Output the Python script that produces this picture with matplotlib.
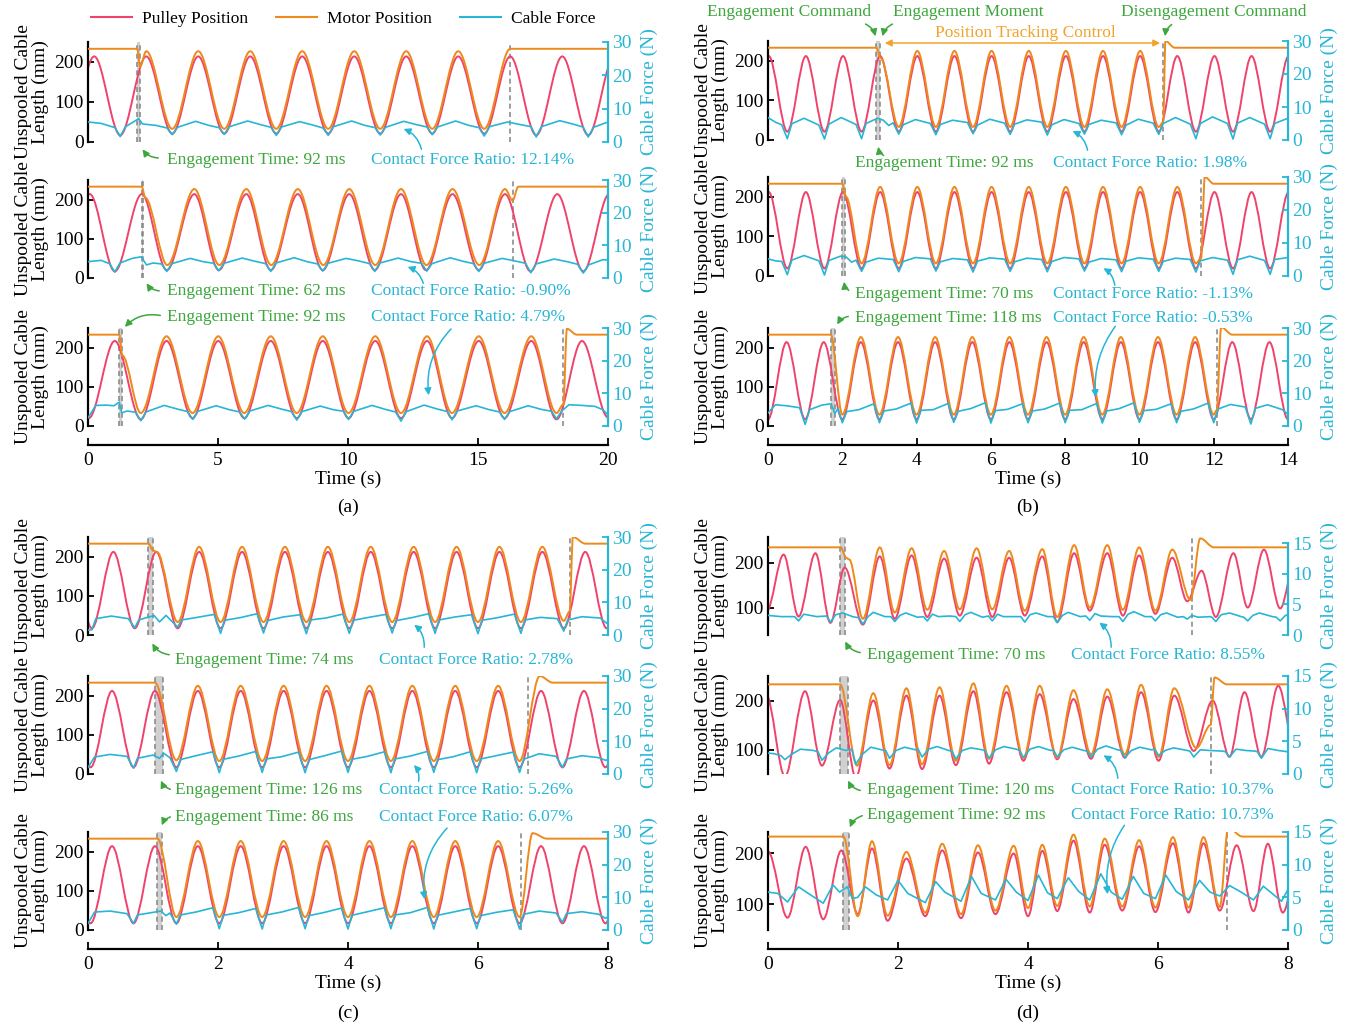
import matplotlib
matplotlib.use('Agg')
import matplotlib.pyplot as plt
from matplotlib.path import Path
from matplotlib.patches import PathPatch, FancyArrowPatch
from matplotlib.lines import Line2D

plt.rcParams['font.family'] = ['Liberation Serif', 'DejaVu Serif']

W, H = 1359, 1027

C_PUL = '#F0436B'
C_MOT = '#EE8A1C'
C_FRC = '#27B6D6'
C_GRN = '#3DA63D'
C_TRK = '#F2A32B'
C_SPAN = '#D0D0D0'
C_DASH = '#8C8C8C'

# ---------------- panel (a) ----------------
a1_pulley = [(-0.76, 18), (0.24, 214), (1.24, 17), (2.24, 214), (3.24, 21), (4.24, 214), (5.24, 21), (6.24, 214),
             (7.24, 21), (8.24, 214), (9.24, 21), (10.24, 214), (11.24, 21), (12.24, 214), (13.24, 21), (14.24, 214),
             (15.24, 21), (16.24, 214), (17.24, 17), (18.24, 214), (19.24, 17), (20.24, 214)]
a1_motor = [(0, 233), (1.90, 233), (2.00, 188), (2.24, 227), (3.24, 33), (4.24, 227), (5.24, 33), (6.24, 227),
            (7.24, 33), (8.24, 227), (9.24, 33), (10.24, 227), (11.24, 33), (12.24, 227), (13.24, 33), (14.24, 227),
            (15.24, 33), (16.24, 233), (20, 233)]
a1_force = [(0, 6.0), (0.5, 5.6), (1.04, 4.3), (1.24, 1.6), (1.44, 4.6), (1.7, 5.8), (1.95, 7.0), (2.1, 5.4), (2.6, 5.0),
            (3.04, 4.2), (3.24, 2.2), (3.44, 4.4), (4.14, 6.2), (4.64, 5.0),
            (5.04, 4.3), (5.24, 2.3), (5.44, 4.6), (6.14, 6.3), (6.64, 5.2),
            (7.04, 4.4), (7.24, 2.0), (7.44, 4.5), (8.14, 6.1), (8.64, 5.1),
            (9.04, 4.2), (9.24, 2.0), (9.44, 4.6), (10.14, 6.3), (10.64, 5.0),
            (11.04, 4.3), (11.24, 2.1), (11.44, 4.4), (12.14, 6.2), (12.64, 5.2),
            (13.04, 4.5), (13.24, 2.2), (13.44, 4.5), (14.14, 6.3), (14.64, 5.0),
            (15.04, 4.3), (15.24, 1.8), (15.44, 4.6), (16.14, 6.0), (16.64, 5.2),
            (17.04, 4.6), (17.24, 1.5), (17.44, 4.6), (18.14, 6.4), (18.64, 5.4),
            (19.04, 4.5), (19.24, 1.5), (19.44, 4.4), (20.0, 6.0)]

a2_pulley = [(-0.97, 18), (0.07, 214), (1.03, 17), (2.07, 214), (3.03, 20), (4.09, 214), (5.03, 20), (6.09, 214),
             (7.03, 20), (8.07, 214), (9.03, 20), (10.05, 214), (11.03, 20), (12.04, 214), (13.0, 20), (14.02, 214),
             (15.03, 20), (16.04, 214), (17.02, 17), (18.05, 214), (19.05, 17), (20.05, 214)]
a2_motor = [(0, 233), (2.07, 233), (2.2, 205), (3.05, 33), (4.09, 227), (5.05, 33), (6.09, 227), (7.05, 33),
            (8.07, 227), (9.05, 33), (10.05, 227), (11.05, 33), (12.04, 227), (13.02, 33), (14.02, 227), (15.05, 33),
            (16.04, 227), (16.33, 198), (16.55, 233), (20, 233)]
a2_force = [(0, 5.0), (0.5, 5.4), (0.83, 4.4), (1.03, 1.8), (1.23, 4.6), (1.7, 6.0), (2.05, 6.5), (2.25, 4.0), (2.5, 4.6),
            (2.83, 4.3), (3.03, 2.0), (3.23, 4.4), (3.93, 6.0), (4.43, 5.0),
            (4.83, 4.5), (5.03, 2.2), (5.23, 4.5), (5.93, 6.1), (6.43, 5.1),
            (6.83, 4.4), (7.03, 2.0), (7.23, 4.6), (7.93, 6.2), (8.43, 5.0),
            (8.83, 4.3), (9.03, 2.1), (9.23, 4.5), (9.93, 6.0), (10.43, 5.2),
            (10.83, 4.4), (11.03, 2.0), (11.23, 4.6), (11.93, 6.1), (12.43, 5.0),
            (12.83, 4.5), (13.03, 2.1), (13.23, 4.4), (13.93, 6.2), (14.43, 5.1),
            (14.83, 4.4), (15.03, 2.0), (15.23, 4.5), (15.93, 6.0), (16.43, 5.2),
            (16.83, 4.5), (17.03, 1.6), (17.23, 4.3), (17.93, 5.8), (18.43, 5.0),
            (18.83, 4.2), (19.05, 1.5), (19.25, 4.0), (19.8, 5.6), (20.0, 5.5)]

a3_pulley = [(-0.97, 217), (0.03, 20), (1.03, 217), (2.03, 17), (3.02, 217), (4.02, 20), (5.01, 217), (6.01, 20),
             (7.03, 217), (8.03, 20), (9.03, 217), (10.02, 20), (11.05, 217), (12.04, 20), (13.04, 217), (14.0, 20),
             (15.03, 217), (16.02, 20), (17.05, 217), (18.02, 17), (19.0, 217), (20.0, 22)]
a3_motor = [(0, 233), (1.20, 233), (1.32, 180), (2.03, 33), (3.02, 229), (4.02, 33), (5.01, 229), (6.01, 33),
            (7.03, 229), (8.03, 33), (9.03, 229), (10.02, 33), (11.05, 229), (12.04, 33), (13.04, 229), (14.0, 33),
            (15.03, 229), (16.02, 33), (17.05, 229), (18.02, 33), (18.28, 55), (18.42, 248), (18.8, 233), (20, 233)]
a3_force = [(0, 2.5), (0.3, 6.3), (0.7, 6.4), (1.0, 6.2), (1.2, 7.3), (1.3, 4.0), (1.5, 4.6),
            (1.83, 4.2), (2.03, 1.6), (2.23, 4.3), (2.93, 6.3), (3.43, 5.2),
            (3.83, 4.4), (4.03, 2.0), (4.23, 4.5), (4.93, 6.2), (5.43, 5.0),
            (5.83, 4.3), (6.03, 2.1), (6.23, 4.6), (6.93, 6.3), (7.43, 5.2),
            (7.83, 4.4), (8.03, 1.8), (8.23, 4.4), (8.93, 6.1), (9.43, 5.0),
            (9.83, 4.5), (10.02, 2.0), (10.22, 4.5), (10.93, 6.3), (11.43, 5.1),
            (11.83, 4.3), (12.04, 1.5), (12.24, 4.4), (12.93, 6.4), (13.43, 5.2),
            (13.83, 4.4), (14.0, 1.9), (14.2, 4.6), (14.93, 6.2), (15.43, 5.0),
            (15.83, 4.3), (16.02, 2.0), (16.22, 4.4), (16.93, 6.2), (17.43, 5.1),
            (17.83, 4.5), (18.02, 2.2), (18.22, 4.6), (18.5, 6.5), (19.0, 6.3), (19.5, 6.0), (19.8, 5.0), (20.0, 3.4)]

engage_a = [(1.90, 1.99), (2.06, 2.12), (1.20, 1.29)]
release_a = [16.22, 16.33, 18.28]
eng_ms_a = [92, 62, 92]
ratio_a = [12.14, -0.90, 4.79]

# ---------------- panel (b) ----------------
b1_pulley = [(-0.48, 21), (0.02, 212), (0.52, 21), (1.02, 212), (1.52, 21), (2.02, 212), (2.52, 21), (3.02, 212),
             (3.52, 21), (4.02, 212), (4.52, 21), (5.02, 212), (5.52, 21), (6.02, 212), (6.52, 21), (7.02, 212),
             (7.52, 21), (8.02, 212), (8.52, 21), (9.02, 212), (9.52, 21), (10.02, 212), (10.52, 21), (11.02, 212),
             (11.52, 21), (12.02, 212), (12.52, 21), (13.02, 212), (13.52, 21), (14.02, 212)]
b1_motor = [(0, 233), (2.92, 233), (3.03, 207), (3.52, 33), (4.02, 225), (4.52, 33), (5.02, 225), (5.52, 33),
            (6.02, 225), (6.52, 33), (7.02, 225), (7.52, 33), (8.02, 225), (8.52, 33), (9.02, 225), (9.52, 33),
            (10.02, 225), (10.52, 33), (10.64, 45), (10.70, 250), (10.95, 233), (14, 233)]
b1_force = [(0, 6.8), (0.2, 5.4),
            (0.37, 4.6), (0.52, 0.4), (0.64, 4.9), (0.97, 6.6),
            (1.37, 4.5), (1.52, 0.3), (1.64, 4.8), (1.97, 6.8),
            (2.37, 4.7), (2.52, 0.4), (2.64, 5.0), (2.95, 6.6), (3.1, 6.0), (3.25, 4.4),
            (3.37, 5.2), (3.52, 1.8), (3.64, 4.6), (3.97, 6.2),
            (4.37, 5.0), (4.52, 1.6), (4.64, 4.7), (4.97, 6.0),
            (5.37, 5.3), (5.52, 1.9), (5.64, 4.5), (5.97, 6.3),
            (6.37, 5.1), (6.52, 1.7), (6.64, 4.8), (6.97, 6.1),
            (7.37, 5.4), (7.52, 1.5), (7.64, 4.6), (7.97, 6.2),
            (8.37, 5.0), (8.52, 1.8), (8.64, 4.7), (8.97, 6.0),
            (9.37, 5.2), (9.52, 1.6), (9.64, 4.5), (9.97, 6.3),
            (10.37, 5.1), (10.52, 1.7), (10.64, 5.0), (10.97, 6.8),
            (11.37, 4.8), (11.52, 0.4), (11.64, 5.0), (11.97, 7.0),
            (12.37, 5.0), (12.52, 0.3), (12.64, 5.1), (12.97, 6.8),
            (13.37, 4.8), (13.52, 0.4), (13.64, 5.0), (14.0, 6.6)]

b2_pulley = [(-0.48, 19), (0.02, 212), (0.52, 19), (1.02, 212), (1.52, 19), (2.02, 212), (2.52, 19), (3.02, 212),
             (3.52, 19), (4.02, 212), (4.52, 19), (5.02, 212), (5.52, 19), (6.02, 212), (6.52, 19), (7.02, 212),
             (7.52, 19), (8.02, 212), (8.52, 19), (9.02, 212), (9.52, 19), (10.02, 212), (10.52, 19), (11.02, 212),
             (11.52, 19), (12.02, 212), (12.52, 19), (13.02, 212), (13.52, 19), (14.02, 212)]
b2_motor = [(0, 233), (2.00, 233), (2.10, 200), (2.52, 32), (3.02, 225), (3.52, 32), (4.02, 225), (4.52, 32),
            (5.02, 225), (5.52, 32), (6.02, 225), (6.52, 32), (7.02, 225), (7.52, 32), (8.02, 225), (8.52, 32),
            (9.02, 225), (9.52, 32), (10.02, 225), (10.52, 32), (11.02, 225), (11.52, 32), (11.66, 45), (11.76, 250),
            (12.0, 233), (14, 233)]
b2_force = [(0, 5.2), (0.2, 4.6),
            (0.37, 4.4), (0.52, 0.4), (0.64, 4.8), (0.97, 6.2),
            (1.37, 4.6), (1.52, 0.3), (1.64, 4.7), (1.95, 6.0), (2.1, 5.8), (2.25, 4.2),
            (2.37, 4.8), (2.52, 1.4), (2.64, 4.2), (2.97, 5.4),
            (3.37, 5.0), (3.52, 1.3), (3.64, 4.4), (3.97, 5.6),
            (4.37, 5.2), (4.52, 1.5), (4.64, 4.3), (4.97, 5.3),
            (5.37, 4.9), (5.52, 1.2), (5.64, 4.5), (5.97, 5.5),
            (6.37, 5.1), (6.52, 1.4), (6.64, 4.3), (6.97, 5.4),
            (7.37, 5.0), (7.52, 1.3), (7.64, 4.4), (7.97, 5.6),
            (8.37, 5.2), (8.52, 1.5), (8.64, 4.2), (8.97, 5.3),
            (9.37, 4.9), (9.52, 1.3), (9.64, 4.5), (9.97, 5.5),
            (10.37, 5.1), (10.52, 1.4), (10.64, 4.4), (10.97, 5.4),
            (11.37, 5.0), (11.52, 1.2), (11.64, 4.6), (11.97, 5.6),
            (12.37, 4.8), (12.52, 0.5), (12.64, 4.9), (12.97, 6.0),
            (13.37, 4.7), (13.52, 0.5), (13.64, 5.0), (14.0, 5.6)]

b3_pulley = [(0.0, 17), (0.5, 214), (1.0, 17), (1.5, 214), (2.0, 17), (2.5, 214), (3.0, 17), (3.5, 214),
             (4.0, 17), (4.5, 214), (5.0, 17), (5.5, 214), (6.0, 17), (6.5, 214), (7.0, 17), (7.5, 214),
             (8.0, 17), (8.5, 214), (9.0, 17), (9.5, 214), (10.0, 17), (10.5, 214), (11.0, 17), (11.5, 214),
             (12.0, 17), (12.5, 214), (13.0, 17), (13.5, 214), (14.0, 17)]
b3_motor = [(0, 233), (1.69, 233), (2.0, 29), (2.5, 227), (3.0, 29), (3.5, 227), (4.0, 29), (4.5, 227),
            (5.0, 29), (5.5, 227), (6.0, 29), (6.5, 227), (7.0, 29), (7.5, 227), (8.0, 29), (8.5, 227),
            (9.0, 29), (9.5, 227), (10.0, 29), (10.5, 227), (11.0, 29), (11.5, 227), (12.0, 29), (12.08, 40),
            (12.2, 252), (12.5, 233), (14, 233)]
b3_force = [(0, 4.0), (0.2, 6.5), (0.5, 6.2),
            (0.85, 5.6), (1.0, 0.5), (1.12, 5.0), (1.45, 6.4),
            (1.7, 6.8), (1.8, 3.8), (1.88, 5.4), (2.0, 1.0), (2.12, 4.4), (2.45, 5.0),
            (2.85, 6.8), (3.0, 1.0), (3.12, 4.6), (3.45, 5.2),
            (3.85, 7.0), (4.0, 0.9), (4.12, 4.8), (4.45, 5.0),
            (4.85, 6.9), (5.0, 1.1), (5.12, 4.5), (5.45, 5.3),
            (5.85, 7.1), (6.0, 0.9), (6.12, 4.7), (6.45, 5.1),
            (6.85, 6.8), (7.0, 1.0), (7.12, 4.6), (7.45, 5.2),
            (7.85, 7.0), (8.0, 1.0), (8.12, 4.8), (8.45, 5.0),
            (8.85, 6.9), (9.0, 0.9), (9.12, 4.6), (9.45, 5.3),
            (9.85, 7.1), (10.0, 1.1), (10.12, 4.7), (10.45, 5.1),
            (10.85, 6.8), (11.0, 1.0), (11.12, 4.5), (11.45, 5.2),
            (11.85, 7.0), (12.0, 1.0), (12.12, 5.2), (12.45, 6.6),
            (12.85, 5.8), (13.0, 0.6), (13.12, 5.4), (13.45, 6.5),
            (13.85, 5.0), (14.0, 3.6)]

engage_b = [(2.92, 3.01), (1.99, 2.06), (1.69, 1.81)]
release_b = [10.64, 11.66, 12.08]
eng_ms_b = [92, 70, 118]
ratio_b = [1.98, -1.13, -0.53]

# ---------------- panel (c) ----------------
c1_pulley = [(-0.27, 212), (0.06, 17), (0.39, 212), (0.72, 17), (1.05, 212), (1.38, 17), (1.71, 212), (2.04, 17),
             (2.37, 212), (2.70, 17), (3.03, 212), (3.36, 17), (3.69, 212), (4.02, 17), (4.35, 212), (4.68, 17),
             (5.01, 212), (5.34, 17), (5.67, 212), (6.00, 17), (6.33, 212), (6.66, 17), (6.99, 212), (7.32, 17),
             (7.65, 212), (7.98, 17), (8.31, 212)]
c1_motor = [(0, 233), (0.93, 233), (1.00, 216), (1.06, 212), (1.38, 33), (1.71, 225), (2.04, 33), (2.37, 225),
            (2.70, 33), (3.03, 225), (3.36, 33), (3.69, 225), (4.02, 33), (4.35, 225), (4.68, 33), (5.01, 225),
            (5.34, 33), (5.67, 225), (6.00, 33), (6.33, 225), (6.66, 33), (6.99, 225), (7.32, 36), (7.41, 60),
            (7.46, 250), (7.65, 233), (8, 233)]
c1_force = [(0, 1.5), (0.06, 1.6), (0.12, 5.0), (0.36, 5.8),
            (0.62, 5.0), (0.72, 2.2), (0.78, 4.6), (0.95, 5.6), (1.02, 5.9),
            (1.1, 4.0), (1.2, 6.0), (1.28, 4.4), (1.38, 2.4), (1.44, 4.6), (1.68, 5.4),
            (1.94, 6.3), (2.04, 0.5), (2.10, 4.5), (2.34, 5.3),
            (2.60, 6.5), (2.70, 0.6), (2.76, 4.4), (3.00, 5.5),
            (3.26, 6.2), (3.36, 0.4), (3.42, 4.6), (3.66, 5.2),
            (3.92, 6.4), (4.02, 0.5), (4.08, 4.5), (4.32, 5.4),
            (4.58, 6.3), (4.68, 0.6), (4.74, 4.4), (4.98, 5.3),
            (5.24, 6.5), (5.34, 0.5), (5.40, 4.6), (5.64, 5.5),
            (5.90, 6.2), (6.00, 0.4), (6.06, 4.5), (6.30, 5.3),
            (6.56, 6.4), (6.66, 0.5), (6.72, 4.6), (6.96, 5.4),
            (7.22, 5.0), (7.32, 1.2), (7.38, 4.6), (7.60, 5.6),
            (7.88, 5.2), (7.98, 3.6), (8.0, 4.0)]

c2_pulley = [(-0.29, 212), (0.04, 17), (0.37, 212), (0.70, 17), (1.03, 212), (1.36, 17), (1.69, 212), (2.02, 17),
             (2.35, 212), (2.68, 17), (3.01, 212), (3.34, 17), (3.67, 212), (4.00, 17), (4.33, 212), (4.66, 17),
             (4.99, 212), (5.32, 17), (5.65, 212), (5.98, 17), (6.31, 212), (6.64, 17), (6.97, 212), (7.30, 17),
             (7.63, 212), (7.96, 17), (8.29, 212)]
c2_motor = [(0, 233), (1.03, 233), (1.36, 35), (1.69, 225), (2.02, 33), (2.35, 225), (2.68, 33), (3.01, 225),
            (3.34, 33), (3.67, 225), (4.00, 33), (4.33, 225), (4.66, 33), (4.99, 225), (5.32, 33), (5.65, 225),
            (5.98, 33), (6.31, 225), (6.64, 33), (6.95, 250), (7.15, 233), (8, 233)]
c2_force = [(0, 2.0), (0.10, 5.2), (0.34, 6.0),
            (0.60, 5.4), (0.70, 1.8), (0.76, 4.8), (1.00, 5.8),
            (1.10, 4.8), (1.16, 6.4), (1.26, 5.0), (1.36, 0.8), (1.42, 4.4), (1.66, 5.6),
            (1.92, 6.8), (2.02, 0.4), (2.08, 4.5), (2.32, 5.5),
            (2.58, 6.9), (2.68, 0.5), (2.74, 4.6), (2.98, 5.3),
            (3.24, 6.7), (3.34, 0.4), (3.40, 4.4), (3.64, 5.6),
            (3.90, 7.0), (4.00, 0.5), (4.06, 4.5), (4.30, 5.4),
            (4.56, 6.8), (4.66, 0.4), (4.72, 4.6), (4.96, 5.5),
            (5.22, 6.9), (5.32, 0.5), (5.38, 4.4), (5.62, 5.3),
            (5.88, 6.8), (5.98, 0.4), (6.04, 4.6), (6.28, 5.6),
            (6.54, 6.7), (6.64, 0.5), (6.70, 4.5), (6.94, 6.2),
            (7.20, 5.4), (7.30, 2.0), (7.36, 4.6), (7.60, 5.6),
            (7.86, 5.0), (7.96, 4.2), (8.0, 4.4)]

c3_pulley = [(-0.29, 214), (0.04, 17), (0.37, 214), (0.70, 17), (1.03, 214), (1.36, 17), (1.69, 214), (2.02, 17),
             (2.35, 214), (2.68, 17), (3.01, 214), (3.34, 17), (3.67, 214), (4.00, 17), (4.33, 214), (4.66, 17),
             (4.99, 214), (5.32, 17), (5.65, 214), (5.98, 17), (6.31, 214), (6.64, 17), (6.97, 214), (7.30, 17),
             (7.63, 214), (7.96, 17), (8.29, 214)]
c3_motor = [(0, 233), (1.07, 233), (1.36, 33), (1.69, 227), (2.02, 33), (2.35, 227), (2.68, 33), (3.01, 227),
            (3.34, 33), (3.67, 227), (4.00, 33), (4.33, 227), (4.66, 33), (4.99, 227), (5.32, 33), (5.65, 227),
            (5.98, 33), (6.31, 227), (6.64, 33), (6.84, 247), (7.06, 233), (8, 233)]
c3_force = [(0, 2.0), (0.10, 5.5), (0.34, 5.8),
            (0.60, 5.0), (0.70, 2.0), (0.76, 4.6), (1.00, 5.4),
            (1.12, 5.8), (1.20, 4.4), (1.26, 5.2), (1.36, 1.8), (1.42, 4.6), (1.66, 5.5),
            (1.92, 6.8), (2.02, 0.4), (2.08, 4.5), (2.32, 5.3),
            (2.58, 6.6), (2.68, 0.3), (2.74, 4.6), (2.98, 5.5),
            (3.24, 6.9), (3.34, 0.4), (3.40, 4.4), (3.64, 5.4),
            (3.90, 6.7), (4.00, 0.3), (4.06, 4.5), (4.30, 5.6),
            (4.56, 6.8), (4.66, 0.4), (4.72, 4.6), (4.96, 5.3),
            (5.22, 6.9), (5.32, 0.3), (5.38, 4.5), (5.62, 5.5),
            (5.88, 6.6), (5.98, 0.4), (6.04, 4.4), (6.28, 5.4),
            (6.54, 6.2), (6.64, 0.3), (6.70, 4.8), (6.94, 5.8),
            (7.20, 5.2), (7.30, 2.4), (7.36, 5.0), (7.60, 5.6),
            (7.86, 4.8), (7.96, 3.6), (8.0, 4.0)]

engage_c = [(0.92, 0.995), (1.03, 1.156), (1.06, 1.146)]
release_c = [7.41, 6.77, 6.66]
eng_ms_c = [74, 126, 86]
ratio_c = [2.78, 5.26, 6.07]

# ---------------- panel (d) ----------------
d1_pulley = [(-0.02, 92), (0.24, 218), (0.47, 80), (0.73, 221), (0.96, 66), (1.18, 189), (1.46, 62), (1.72, 214),
             (1.95, 75), (2.21, 216), (2.45, 79), (2.71, 209), (2.95, 82), (3.21, 211), (3.45, 79), (3.71, 211),
             (3.95, 82), (4.22, 214), (4.45, 68), (4.71, 221), (4.95, 93), (5.22, 221), (5.46, 82), (5.71, 216),
             (5.96, 86), (6.22, 211), (6.45, 114), (6.67, 182), (6.89, 79), (7.16, 221), (7.38, 100), (7.63, 229),
             (7.88, 98), (8.13, 220)]
d1_motor = [(0, 234), (1.12, 234), (1.20, 211), (1.25, 207), (1.46, 75), (1.72, 234), (1.95, 89), (2.21, 232),
            (2.45, 95), (2.71, 226), (2.95, 96), (3.21, 232), (3.45, 96), (3.71, 226), (3.95, 93), (4.22, 230),
            (4.45, 79), (4.71, 239), (4.95, 100), (5.22, 239), (5.46, 95), (5.71, 234), (5.96, 93), (6.22, 229),
            (6.50, 117), (6.65, 254), (6.86, 234), (8, 234)]
d1_force = [(0, 3.2), (0.2, 3.0),
            (0.41, 3.0), (0.47, 2.3), (0.55, 3.4), (0.75, 3.0),
            (0.90, 3.1), (0.96, 2.1), (1.04, 3.3), (1.15, 3.6), (1.30, 3.0),
            (1.40, 2.8), (1.46, 1.8), (1.54, 3.0), (1.62, 3.7), (1.80, 3.0),
            (1.89, 3.0), (1.95, 2.2), (2.03, 3.2), (2.12, 3.6), (2.30, 2.9),
            (2.39, 3.0), (2.45, 2.3), (2.53, 3.4), (2.62, 3.0), (2.80, 3.1),
            (2.89, 3.0), (2.95, 2.2), (3.03, 3.3), (3.12, 3.7), (3.30, 2.9),
            (3.39, 3.1), (3.45, 2.3), (3.53, 3.4), (3.62, 3.0), (3.80, 3.0),
            (3.89, 3.0), (3.95, 2.1), (4.03, 3.3), (4.12, 3.6), (4.30, 3.0),
            (4.39, 3.0), (4.45, 2.0), (4.53, 3.2), (4.62, 3.7), (4.80, 3.0),
            (4.89, 3.1), (4.95, 2.4), (5.03, 3.5), (5.12, 3.1), (5.30, 3.0),
            (5.40, 3.0), (5.46, 2.2), (5.54, 3.4), (5.63, 3.8), (5.80, 3.0),
            (5.90, 3.0), (5.96, 2.3), (6.04, 3.3), (6.13, 3.6), (6.30, 2.9),
            (6.39, 3.0), (6.45, 2.6), (6.52, 3.2), (6.62, 2.9), (6.80, 3.0),
            (6.83, 2.9), (6.89, 2.2), (6.97, 3.3), (7.10, 3.6), (7.28, 3.0),
            (7.32, 2.9), (7.38, 2.3), (7.46, 3.2), (7.56, 3.6), (7.76, 3.0),
            (7.82, 2.9), (7.88, 2.3), (7.96, 3.2), (8.0, 3.3)]

d2_pulley = [(-0.03, 213), (0.26, 45), (0.57, 219), (0.83, 67), (1.11, 201), (1.35, 43), (1.62, 200), (1.87, 61),
             (2.13, 210), (2.37, 60), (2.64, 210), (2.89, 68), (3.16, 219), (3.40, 71), (3.67, 217), (3.93, 77),
             (4.18, 213), (4.45, 80), (4.70, 203), (4.97, 81), (5.22, 208), (5.49, 83), (5.74, 217), (6.01, 77),
             (6.25, 210), (6.55, 97), (6.84, 200), (7.10, 85), (7.33, 217), (7.59, 85), (7.85, 230), (8.12, 90)]
d2_motor = [(0, 233), (1.11, 233), (1.37, 67), (1.62, 215), (1.87, 68), (2.13, 225), (2.37, 70), (2.64, 227),
            (2.89, 77), (3.16, 235), (3.40, 81), (3.67, 230), (3.93, 83), (4.18, 230), (4.45, 83), (4.70, 221),
            (4.97, 90), (5.22, 223), (5.49, 90), (5.74, 232), (6.01, 85), (6.25, 225), (6.59, 103), (6.81, 150),
            (6.87, 247), (7.06, 233), (8, 233)]
d2_force = [(0, 3.2), (0.10, 3.1),
            (0.20, 2.8), (0.26, 2.2), (0.36, 3.0), (0.50, 3.8), (0.70, 3.6),
            (0.77, 3.4), (0.83, 2.1), (0.93, 3.2), (1.05, 4.0), (1.20, 3.6),
            (1.29, 3.8), (1.35, 1.5), (1.45, 3.0), (1.58, 4.1), (1.75, 3.7),
            (1.81, 3.6), (1.87, 2.4), (1.97, 3.6), (2.10, 4.1), (2.27, 3.7),
            (2.31, 3.8), (2.37, 2.6), (2.47, 3.8), (2.60, 4.2), (2.78, 3.6),
            (2.83, 3.5), (2.89, 2.3), (2.99, 3.6), (3.12, 4.0), (3.30, 3.7),
            (3.34, 3.6), (3.40, 2.4), (3.50, 3.7), (3.63, 4.2), (3.82, 3.8),
            (3.87, 3.6), (3.93, 2.5), (4.03, 3.8), (4.16, 4.2), (4.35, 3.6),
            (4.39, 3.7), (4.45, 2.6), (4.55, 3.7), (4.68, 4.1), (4.86, 3.6),
            (4.91, 3.5), (4.97, 2.6), (5.07, 3.8), (5.20, 4.3), (5.38, 3.7),
            (5.43, 3.6), (5.49, 2.5), (5.59, 3.6), (5.72, 4.1), (5.90, 3.7),
            (5.95, 3.8), (6.01, 2.8), (6.11, 3.6), (6.24, 4.0), (6.45, 3.6),
            (6.49, 3.5), (6.55, 2.6), (6.65, 3.7), (6.80, 3.6), (7.00, 3.5),
            (7.04, 3.4), (7.10, 2.6), (7.20, 3.8), (7.35, 3.6), (7.50, 3.5),
            (7.53, 3.4), (7.59, 2.4), (7.69, 3.9), (7.85, 3.6), (8.0, 3.4)]

d3_pulley = [(0.0, 204), (0.30, 74), (0.58, 213), (0.85, 71), (1.13, 206), (1.38, 81), (1.60, 210), (1.84, 68),
             (2.13, 190), (2.42, 77), (2.68, 206), (2.97, 73), (3.23, 202), (3.50, 81), (3.78, 200), (4.00, 77),
             (4.22, 205), (4.45, 87), (4.70, 225), (4.95, 84), (5.18, 217), (5.45, 88), (5.71, 214), (5.96, 85),
             (6.23, 220), (6.47, 84), (6.70, 220), (6.95, 88), (7.21, 216), (7.47, 87), (7.69, 219), (7.92, 84),
             (8.20, 215)]
d3_motor = [(0, 233), (1.16, 233), (1.38, 77), (1.60, 224), (1.84, 78), (2.13, 203), (2.42, 84), (2.68, 219),
            (2.97, 81), (3.23, 216), (3.50, 88), (3.78, 215), (4.00, 93), (4.22, 217), (4.45, 97), (4.70, 237),
            (4.95, 96), (5.18, 229), (5.45, 96), (5.71, 226), (5.96, 94), (6.23, 232), (6.47, 94), (6.70, 232),
            (6.95, 95), (7.08, 250), (7.30, 233), (8, 233)]
d3_force = [(0, 5.8), (0.15, 5.6), (0.30, 4.3), (0.47, 6.6), (0.62, 5.6),
            (0.85, 4.1), (1.00, 6.9), (1.10, 5.8), (1.22, 6.6), (1.30, 4.8),
            (1.38, 5.0), (1.50, 6.6), (1.66, 5.4),
            (1.84, 4.6), (2.00, 7.6), (2.15, 5.6),
            (2.42, 4.2), (2.58, 7.4), (2.72, 5.8),
            (2.97, 4.4), (3.13, 8.2), (3.28, 5.6),
            (3.50, 4.6), (3.66, 7.8), (3.82, 5.8),
            (4.00, 4.5), (4.16, 8.4), (4.30, 5.7),
            (4.45, 4.8), (4.62, 8.0), (4.78, 5.9),
            (4.95, 4.6), (5.12, 8.6), (5.28, 5.8),
            (5.45, 4.7), (5.62, 8.2), (5.78, 5.6),
            (5.96, 4.8), (6.12, 8.4), (6.28, 5.9),
            (6.47, 4.6), (6.64, 7.6), (6.80, 5.8),
            (6.95, 5.2), (7.10, 6.8), (7.28, 5.8),
            (7.47, 4.6), (7.62, 6.7), (7.78, 5.4),
            (7.90, 4.4), (8.0, 6.2)]

engage_d = [(1.11, 1.18), (1.11, 1.23), (1.16, 1.25)]
release_d = [6.52, 6.82, 7.06]
eng_ms_d = [70, 120, 92]
ratio_d = [8.55, 10.37, 10.73]

# ---------------- layout helpers ----------------
fig = plt.figure(figsize=(W / 100, H / 100), dpi=100)


def fxy(px, py):
    return px / W, 1 - py / H


def add_curve(ax, pts, color, lw, z):
    # smooth curve through the read extrema (horizontal tangents at each point)
    verts = [pts[0]]
    codes = [Path.MOVETO]
    for (t0, y0), (t1, y1) in zip(pts[:-1], pts[1:]):
        h = (t1 - t0) / 3.0
        verts += [(t0 + h, y0), (t1 - h, y1), (t1, y1)]
        codes += [Path.CURVE4] * 3
    ax.add_patch(PathPatch(Path(verts, codes), fc='none', ec=color, lw=lw, zorder=z,
                           capstyle='round', joinstyle='round'))


def arrow(p0, p1, color, rad, style='-|>'):
    fig.add_artist(FancyArrowPatch(fxy(*p0), fxy(*p1), transform=fig.transFigure, arrowstyle=style,
                                   connectionstyle='arc3,rad=%s' % rad, mutation_scale=10, color=color, lw=1.1))


def draw_row(box, xlim, llim, rlim, xticks, lticks, rticks, pul, mot, frc, span, release, bottom, rbound=None):
    x0, x1, y0, y1 = box
    ax = fig.add_axes([x0 / W, 1 - y1 / H, (x1 - x0) / W, (y1 - y0) / H])
    ax.patch.set_alpha(0)
    axr = ax.twinx()
    ax.set_xlim(xlim)
    ax.set_ylim(llim)
    axr.set_ylim(rlim)

    ax.axvspan(span[0], span[1], color=C_SPAN, lw=0, zorder=0.5)
    for xv in (span[0], span[1], release):
        ax.axvline(xv, color=C_DASH, ls=(0, (3, 2)), lw=1.2, zorder=1)

    add_curve(ax, pul, C_PUL, 1.4, 2)
    add_curve(ax, mot, C_MOT, 1.4, 3)
    axr.plot([p[0] for p in frc], [p[1] for p in frc], color=C_FRC, lw=1.2, zorder=2)

    for s in ('top', 'right'):
        ax.spines[s].set_visible(False)
    for s in ('top', 'left', 'bottom'):
        axr.spines[s].set_visible(False)
    ax.spines['left'].set_linewidth(1.6)
    axr.spines['right'].set_linewidth(1.6)
    axr.spines['right'].set_color(C_FRC)
    if rbound is not None:
        axr.spines['right'].set_bounds(*rbound)

    ax.set_yticks(lticks)
    axr.set_yticks(rticks)
    ax.tick_params(axis='y', direction='in', length=4, width=1.3, labelsize=14, pad=3)
    axr.tick_params(axis='y', direction='in', length=4, width=1.3, labelsize=14, pad=3,
                    colors=C_FRC)
    ax.set_ylabel('Unspooled Cable\nLength (mm)', fontsize=14, linespacing=1.0)
    ax.yaxis.set_label_coords(-0.075, 0.5)
    axr.set_ylabel('Cable Force (N)', fontsize=14, color=C_FRC)
    axr.yaxis.set_label_coords(1.063, 0.5)

    ax.set_xticks(xticks)
    if bottom:
        ax.spines['bottom'].set_position(('outward', 14))
        ax.spines['bottom'].set_linewidth(1.6)
        ax.tick_params(axis='x', direction='in', length=5, width=1.3, labelsize=14, pad=5)
        ax.set_xlabel('Time (s)', fontsize=14, labelpad=1)
    else:
        ax.spines['bottom'].set_visible(False)
        ax.tick_params(axis='x', bottom=False, labelbottom=False)
    return ax


def green_note(txt_xy, a0, a1, rad, ms):
    fig.text(*fxy(*txt_xy), 'Engagement Time: %d ms' % ms, color=C_GRN, fontsize=12.5, ha='left', va='center')
    arrow(a0, a1, C_GRN, rad)


def cyan_note(txt_xy, a0, a1, rad, ratio):
    fig.text(*fxy(*txt_xy), 'Contact Force Ratio: %.2f%%' % ratio, color=C_FRC, fontsize=12.5,
             ha='left', va='center')
    arrow(a0, a1, C_FRC, rad)


# ---------------- draw panels ----------------
rows_ab = [(42, 142), (180, 278), (328, 426)]
rows_b = [(41, 140), (177, 276), (328, 426)]
rows_cd = [(537, 635), (676, 774), (832, 930)]

panels = [
    ('(a)', 88, 608, rows_ab, (0, 20), [0, 5, 10, 15, 20], [a1_pulley, a2_pulley, a3_pulley],
     [a1_motor, a2_motor, a3_motor], [a1_force, a2_force, a3_force], engage_a, release_a),
    ('(b)', 768, 1288, rows_b, (0, 14), list(range(0, 15, 2)), [b1_pulley, b2_pulley, b3_pulley],
     [b1_motor, b2_motor, b3_motor], [b1_force, b2_force, b3_force], engage_b, release_b),
    ('(c)', 88, 608, rows_cd, (0, 8), [0, 2, 4, 6, 8], [c1_pulley, c2_pulley, c3_pulley],
     [c1_motor, c2_motor, c3_motor], [c1_force, c2_force, c3_force], engage_c, release_c),
    ('(d)', 768, 1288, rows_cd, (0, 8), [0, 2, 4, 6, 8], [d1_pulley, d2_pulley, d3_pulley],
     [d1_motor, d2_motor, d3_motor], [d1_force, d2_force, d3_force], engage_d, release_d),
]

d_left = [(39, 257), (50, 250), (50, 242)]
d_right = [(0, 16), (0, 15), (0, 15)]

for name, xl, xr, rows, xlim, xticks, puls, mots, frcs, spans, rels in panels:
    for i in range(3):
        if name == '(d)':
            llim, rlim, lt, rt = d_left[i], d_right[i], [100, 200], [0, 5, 10, 15]
            rb = (0, 15)
        else:
            llim, rlim, lt, rt, rb = (0, 250), (0, 30), [0, 100, 200], [0, 10, 20, 30], None
        draw_row((xl, xr, rows[i][0], rows[i][1]), xlim, llim, rlim, xticks, lt, rt,
                 puls[i], mots[i], frcs[i], spans[i], rels[i], i == 2, rb)
    cx = (xl + xr) / 2
    fig.text(*fxy(cx, 507 if rows[0][0] < 100 else 1013), name, fontsize=14, ha='center', va='center')

# annotations: (a)
green_note((167, 160), (161, 158), (141, 147), -0.3, eng_ms_a[0])
cyan_note((371, 160), (422, 152), (401, 128), 0.3, ratio_a[0])
green_note((167, 291), (162, 291), (145, 281), -0.3, eng_ms_a[1])
cyan_note((371, 291), (424, 286), (405, 266), 0.3, ratio_a[1])
green_note((167, 317), (163, 316), (123, 329), 0.3, eng_ms_a[2])
cyan_note((371, 317), (453, 327), (429, 398), 0.25, ratio_a[2])

# annotations: (b)
green_note((855, 163), (886, 157), (878, 144), -0.3, eng_ms_b[0])
cyan_note((1053, 163), (1088, 153), (1070, 130), 0.3, ratio_b[0])
green_note((855, 294), (851, 292), (844, 279), -0.3, eng_ms_b[1])
cyan_note((1053, 294), (1115, 288), (1101, 267), 0.3, ratio_b[1])
green_note((855, 318), (851, 316), (836, 327), 0.3, eng_ms_b[2])
cyan_note((1053, 318), (1117, 324), (1096, 400), 0.2, ratio_b[2])

fig.text(*fxy(707, 12), 'Engagement Command', color=C_GRN, fontsize=12.5, ha='left', va='center')
fig.text(*fxy(893, 12), 'Engagement Moment', color=C_GRN, fontsize=12.5, ha='left', va='center')
fig.text(*fxy(1121, 12), 'Disengagement Command', color=C_GRN, fontsize=12.5, ha='left', va='center')
fig.text(*fxy(935, 33), 'Position Tracking Control', color=C_TRK, fontsize=12.5, ha='left', va='center')
arrow((863, 23), (876, 39), C_GRN, -0.3)
arrow((895, 23), (882, 39), C_GRN, 0.3)
arrow((1174, 23), (1165, 39), C_GRN, 0.3)
arrow((882, 43), (1163, 43), C_TRK, 0, style='<|-|>')

# annotations: (c)
green_note((175, 660), (172, 655), (151, 641), -0.3, eng_ms_c[0])
cyan_note((379, 660), (424, 650), (412, 623), 0.3, ratio_c[0])
green_note((175, 790), (173, 790), (160, 778), -0.3, eng_ms_c[1])
cyan_note((379, 790), (418, 784), (412, 763), 0.3, ratio_c[1])
green_note((175, 817), (173, 816), (161, 828), 0.3, eng_ms_c[2])
cyan_note((379, 817), (449, 826), (425, 902), 0.25, ratio_c[2])

# annotations: (d)
green_note((867, 655), (863, 653), (844, 639), -0.3, eng_ms_d[0])
cyan_note((1071, 655), (1111, 650), (1097, 621), 0.3, ratio_d[0])
green_note((867, 790), (863, 791), (847, 778), -0.3, eng_ms_d[1])
cyan_note((1071, 790), (1118, 781), (1101, 754), 0.3, ratio_d[1])
green_note((867, 815), (865, 815), (849, 830), 0.3, eng_ms_d[2])
cyan_note((1071, 815), (1126, 823), (1108, 897), 0.2, ratio_d[2])

# legend
handles = [Line2D([], [], color=C_PUL, lw=1.5), Line2D([], [], color=C_MOT, lw=1.5),
           Line2D([], [], color=C_FRC, lw=1.5)]
fig.legend(handles, ['Pulley Position', 'Motor Position', 'Cable Force'], loc='center',
           bbox_to_anchor=fxy(343, 19), ncol=3, frameon=False, fontsize=12.5,
           handlelength=2.4, handletextpad=0.55, columnspacing=1.6)

fig.savefig('out.png', dpi=100)
